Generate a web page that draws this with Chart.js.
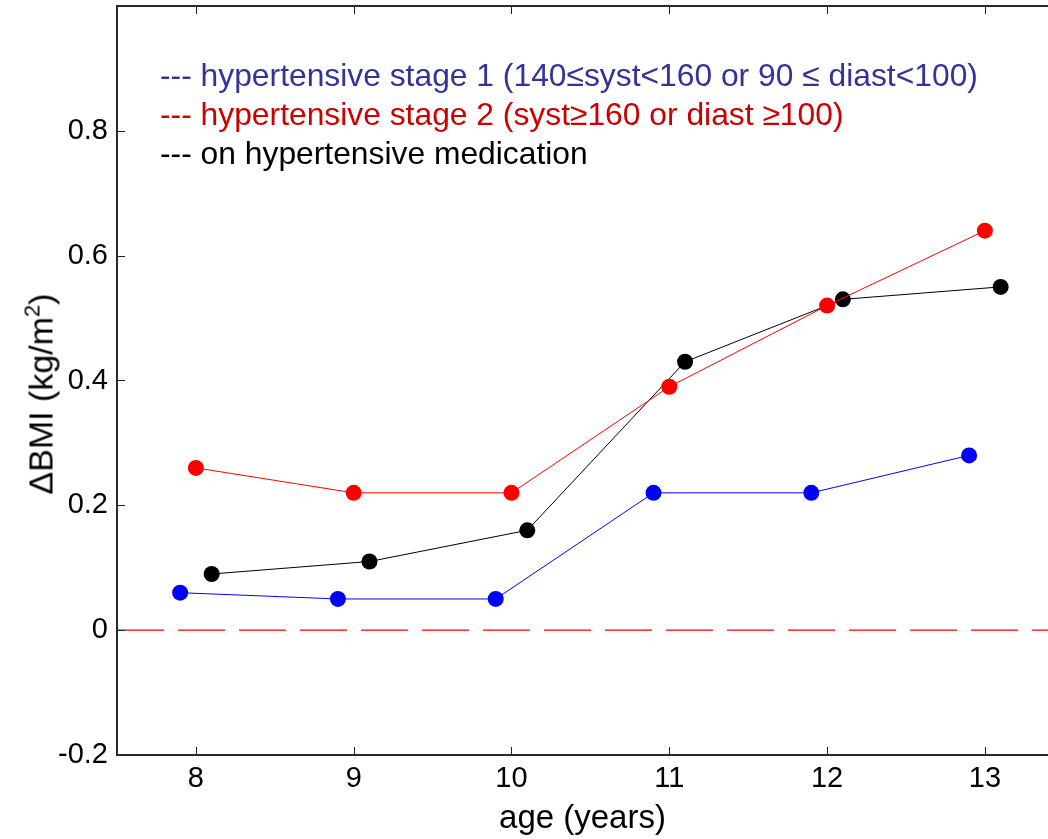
<!DOCTYPE html>
<html>
<head>
<meta charset="utf-8">
<script src="https://cdn.jsdelivr.net/npm/chart.js@4/dist/chart.umd.min.js"></script>
<style>
  html, body { margin: 0; padding: 0; background: #fff; overflow: hidden; }
  #wrap { position: relative; width: 1048px; height: 839px; }
  .leg { position: absolute; left: 160px; font-family: "Liberation Sans", Arial, sans-serif; font-size: 31.8px; line-height: 36px; white-space: nowrap; }
  #ytitle { position: absolute; left: 41px; top: 394px; transform: translate(-50%, -50%) rotate(-90deg);
    font-family: "Liberation Sans", Arial, sans-serif; font-size: 34px; white-space: nowrap; color: #000; }
  #ytitle sup { font-size: 22px; vertical-align: 13px; line-height: 0; }
</style>
</head>
<body>
<div id="wrap">
  <canvas id="bmiChart" width="1048" height="839"></canvas>
  <div class="leg" style="top:57px; color:#333399">--- hypertensive stage 1 (140≤syst&lt;160 or 90 ≤ diast&lt;100)</div>
  <div class="leg" style="top:96px; color:#cc0000">--- hypertensive stage 2 (syst≥160 or diast ≥100)</div>
  <div class="leg" style="top:135px; color:#000">--- on hypertensive medication</div>
  <div id="ytitle">ΔBMI (kg/m<sup>2</sup>)</div>
</div>
<script>
// data
const ageTicks = [8, 9, 10, 11, 12, 13];
const bmiTicks = [-0.2, 0, 0.2, 0.4, 0.6, 0.8];

const stage1Ages = [7.9, 8.9, 9.9, 10.9, 11.9, 12.9];
const stage1Bmi = [0.06, 0.05, 0.05, 0.22, 0.22, 0.28];

const stage2Ages = [8, 9, 10, 11, 12, 13];
const stage2Bmi = [0.26, 0.22, 0.22, 0.39, 0.52, 0.64];

const medAges = [8.1, 9.1, 10.1, 11.1, 12.1, 13.1];
const medBmi = [0.09, 0.11, 0.16, 0.43, 0.53, 0.55];

const zeroLine = [7.5, 13.4];

const pts = (xs, ys) => xs.map((x, i) => ({ x: x, y: ys[i] }));

// box + inward ticks, matlab style
const boxPlugin = {
  id: "box",
  afterDraw(chart) {
    const { ctx, chartArea: a, scales } = chart;
    ctx.save();
    ctx.strokeStyle = "#222";
    ctx.lineWidth = 1;
    ageTicks.forEach(t => {
      const x = Math.round(scales.x.getPixelForValue(t)) + 0.5;
      ctx.beginPath();
      ctx.moveTo(x, a.bottom); ctx.lineTo(x, a.bottom - 8);
      ctx.moveTo(x, a.top); ctx.lineTo(x, a.top + 8);
      ctx.stroke();
    });
    bmiTicks.forEach(t => {
      const y = Math.round(scales.y.getPixelForValue(t)) + 0.5;
      ctx.beginPath();
      ctx.moveTo(a.left, y); ctx.lineTo(a.left + 8, y);
      ctx.stroke();
    });
    ctx.lineWidth = 2;
    ctx.strokeStyle = "#2a2a2a";
    ctx.beginPath();
    ctx.moveTo(a.right, a.top);
    ctx.lineTo(a.left, a.top);
    ctx.lineTo(a.left, a.bottom);
    ctx.lineTo(a.right, a.bottom);
    ctx.stroke();
    ctx.restore();
  }
};

const tickFont = { family: "'Liberation Sans', Arial, sans-serif", size: 29 };
const titleFont = { family: "'Liberation Sans', Arial, sans-serif", size: 33 };

new Chart(document.getElementById("bmiChart").getContext("2d"), {
  type: "scatter",
  data: {
    datasets: [
      {
        data: pts(zeroLine, [0, 0]),
        showLine: true,
        borderColor: "#ff0000",
        borderWidth: 1.2,
        borderDash: [47, 14],
        pointRadius: 0
      },
      {
        data: pts(stage1Ages, stage1Bmi),
        showLine: true,
        borderColor: "#0000ff",
        backgroundColor: "#0000ff",
        borderWidth: 1,
        pointRadius: 8,
        pointBorderWidth: 0
      },
      {
        data: pts(stage2Ages, stage2Bmi),
        showLine: true,
        borderColor: "#ff0000",
        backgroundColor: "#ff0000",
        borderWidth: 1,
        pointRadius: 8,
        pointBorderWidth: 0
      },
      {
        data: pts(medAges, medBmi),
        showLine: true,
        borderColor: "#000000",
        backgroundColor: "#000000",
        borderWidth: 1,
        pointRadius: 8,
        pointBorderWidth: 0
      }
    ]
  },
  options: {
    responsive: false,
    animation: false,
    layout: { autoPadding: false, padding: { top: 6, right: 0, left: 0, bottom: 0 } },
    plugins: {
      legend: { display: false },
      tooltip: { enabled: false }
    },
    scales: {
      x: {
        type: "linear",
        min: 7.5,
        max: 13.4,
        afterBuildTicks: s => { s.ticks = ageTicks.map(v => ({ value: v })); },
        afterFit: s => { s.height = 84; s.paddingLeft = 0; s.paddingRight = 0; },
        grid: { display: false, drawTicks: false },
        border: { display: false },
        ticks: { color: "#000", font: tickFont, padding: 7, maxRotation: 0 },
        title: {
          display: true,
          text: "age (years)",
          color: "#000",
          font: titleFont,
          padding: { top: 0, bottom: 0 }
        }
      },
      y: {
        min: -0.2,
        max: 1.0,
        afterBuildTicks: s => { s.ticks = bmiTicks.map(v => ({ value: v })); },
        afterFit: s => { s.width = 117; s.paddingTop = 0; s.paddingBottom = 0; },
        grid: { display: false, drawTicks: false },
        border: { display: false },
        ticks: {
          color: "#000",
          font: tickFont,
          padding: 9,
          callback: v => String(Math.round(v * 10) / 10)
        }
      }
    }
  },
  plugins: [boxPlugin]
});
</script>
</body>
</html>
